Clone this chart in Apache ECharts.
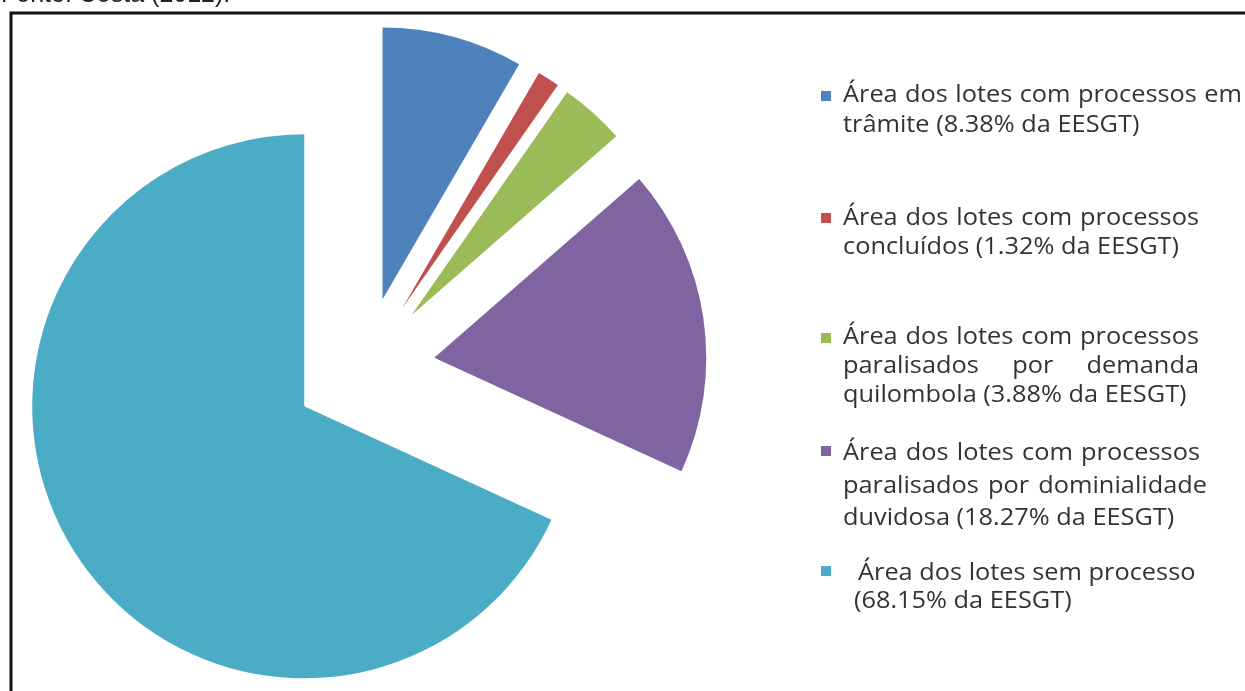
<!DOCTYPE html>
<html>
<head>
<meta charset="utf-8">
<script src="https://cdn.jsdelivr.net/npm/echarts@6/dist/echarts.min.js"></script>
<style>
  html, body { margin: 0; padding: 0; background: #fff; }
  #chart { width: 1245px; height: 691px; }
</style>
</head>
<body>
<div id="chart"></div>
<script>
// Share of the EESGT area by status of the land-regularisation process
const categories = [
  'Área dos lotes com processos em trâmite',
  'Área dos lotes com processos concluídos',
  'Área dos lotes com processos paralisados por demanda quilombola',
  'Área dos lotes com processos paralisados por dominialidade duvidosa',
  'Área dos lotes sem processo'
];
const shares = [8.38, 1.32, 3.88, 18.27, 68.15];
const colors = ['#4F81BD', '#C0504D', '#9BBB59', '#8064A2', '#4BACC6'];
const sourceNote = 'Fonte: Costa (2012).';

// Legend text, wrapped by hand; the last line of each entry carries the share
const pct = v => '(' + v.toFixed(2) + '% da EESGT)';
const legendLines = [
  ['Área dos lotes com processos em', 'trâmite ' + pct(shares[0])],
  ['Área dos lotes com processos', 'concluídos ' + pct(shares[1])],
  ['Área dos lotes com processos', 'paralisados por demanda', 'quilombola ' + pct(shares[2])],
  ['Área dos lotes com processos', 'paralisados por dominialidade', 'duvidosa ' + pct(shares[3])],
  ['Área dos lotes sem processo', pct(shares[4])]
];

// Legend layout: square centre y, line centre ys, text left x, justified right edges
const legendLayout = [
  { sq: 96,  ys: [95, 125],       x: [843, 843],      right: [1242] },
  { sq: 218, ys: [218, 247],      x: [843, 843],      right: [1199] },
  { sq: 338, ys: [337, 366, 395], x: [843, 843, 843], right: [1199, 1199] },
  { sq: 451, ys: [453, 486, 518], x: [843, 843, 843], right: [1200, 1207] },
  { sq: 571, ys: [573, 601],      x: [858, 854],      right: [] }
];

const FONT_SIZE = 23;
const FONT = FONT_SIZE + 'px "Open Sans", "DejaVu Sans", sans-serif';
const TEXT_COLOR = '#333333';

const ctx = document.createElement('canvas').getContext('2d');
ctx.font = FONT;
const measure = s => ctx.measureText(s).width;
// horizontal stretch of the legend type, averaged over a few reference line widths
const SCALE_X = (
  315 / measure(legendLines[0][1]) +
  322 / measure(legendLines[4][0]) +
  214 / measure(legendLines[4][1])
) / 3;

const graphics = [];

// frame around the figure (left and top edges are visible)
graphics.push({
  type: 'rect', silent: true,
  shape: { x: 11, y: 13, width: 1400, height: 900 },
  style: { fill: 'none', stroke: '#111', lineWidth: 3 }
});

// source note above the frame
graphics.push({
  type: 'text', silent: true, x: 1, y: 8,
  style: {
    text: sourceNote, font: '25px "Liberation Sans", Arial, sans-serif',
    fill: '#222', textAlign: 'left', textVerticalAlign: 'bottom'
  }
});

function addLine(text, x0, y, right) {
  if (right === undefined) {
    graphics.push({
      type: 'text', silent: true, x: x0, y: y, scaleX: SCALE_X,
      style: { text: text, font: FONT, fill: TEXT_COLOR, textAlign: 'left', textVerticalAlign: 'middle' }
    });
    return;
  }
  const words = text.split(' ');
  const widths = words.map(w => measure(w) * SCALE_X);
  const total = widths.reduce((a, b) => a + b, 0);
  const gap = words.length > 1 ? (right - x0 - total) / (words.length - 1) : 0;
  let x = x0;
  words.forEach((w, i) => {
    graphics.push({
      type: 'text', silent: true, x: x, y: y, scaleX: SCALE_X,
      style: { text: w, font: FONT, fill: TEXT_COLOR, textAlign: 'left', textVerticalAlign: 'middle' }
    });
    x += widths[i] + gap;
  });
}

legendLines.forEach((lines, i) => {
  const L = legendLayout[i];
  graphics.push({
    type: 'rect', silent: true,
    shape: { x: 821, y: L.sq - 5, width: 10, height: 10 },
    style: { fill: colors[i] }
  });
  lines.forEach((t, j) => addLine(t, L.x[j], L.ys[j], L.right[j]));
});

const chart = echarts.init(document.getElementById('chart'), null, { renderer: 'canvas' });
chart.setOption({
  animation: false,
  backgroundColor: '#ffffff',
  graphic: graphics,
  series: [{
    type: 'pie',
    center: [364, 368],
    radius: 272,
    startAngle: 90,
    clockwise: true,
    selectedMode: 'multiple',
    selectedOffset: 71,
    avoidLabelOverlap: false,
    label: { show: false },
    labelLine: { show: false },
    emphasis: { disabled: true },
    itemStyle: { borderWidth: 0 },
    data: categories.map((name, i) => ({
      name: name,
      value: shares[i],
      selected: true,
      itemStyle: { color: colors[i] }
    }))
  }]
});
</script>
</body>
</html>
